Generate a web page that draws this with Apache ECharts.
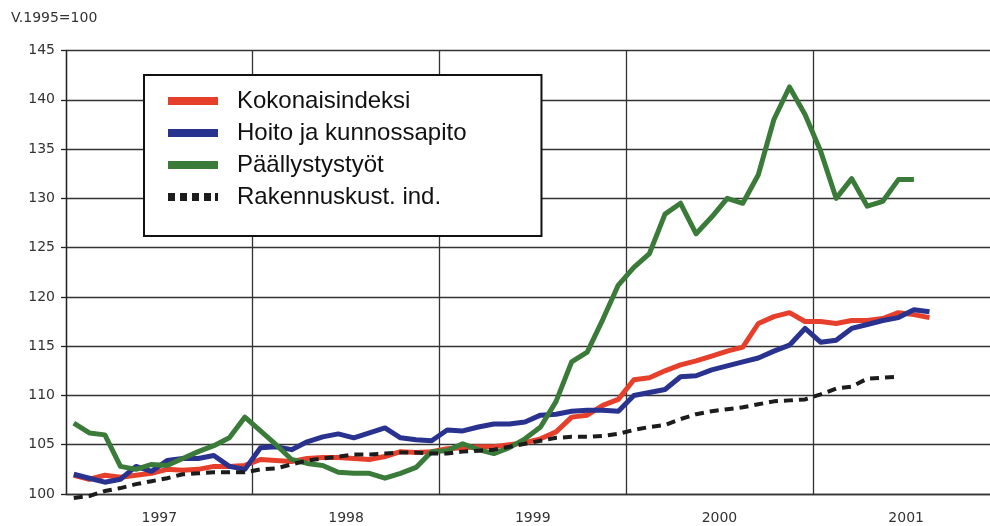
<!DOCTYPE html>
<html>
<head>
<meta charset="utf-8">
<script src="https://cdn.jsdelivr.net/npm/echarts@6/dist/echarts.min.js"></script>
<style>
  html, body { margin: 0; padding: 0; background: #fff; overflow: hidden; width: 990px; height: 526px; }
  /* the plot runs on a little past the right edge of the page */
  #chart { width: 1000px; height: 526px; }
</style>
</head>
<body>
<div id="chart"></div>
<script>
// Year bands along the x axis
const years = ['1997', '1998', '1999', '2000', '2001'];

// Monthly index values (1995 = 100), starting January 1997
const kokonaisindeksi = [
  101.9, 101.5, 101.9, 101.7, 101.9, 102.1, 102.5, 102.4, 102.5, 102.8, 102.8, 102.9,
  103.5, 103.4, 103.3, 103.6, 103.7, 103.7, 103.6, 103.5, 103.8, 104.3, 104.2, 104.3,
  104.6, 104.7, 104.8, 104.8, 105.0, 105.2, 105.6, 106.3, 107.8, 108.0, 109.0, 109.6,
  111.6, 111.8, 112.5, 113.1, 113.5, 114.0, 114.5, 114.9, 117.3, 118.0, 118.4, 117.5,
  117.5, 117.3, 117.6, 117.6, 117.8, 118.4, 118.2, 117.9
];
const hoitoJaKunnossapito = [
  102.0, 101.6, 101.2, 101.5, 102.8, 102.3, 103.4, 103.6, 103.6, 103.9, 102.8, 102.5,
  104.7, 104.8, 104.5, 105.3, 105.8, 106.1, 105.7, 106.2, 106.7, 105.7, 105.5, 105.4,
  106.5, 106.4, 106.8, 107.1, 107.1, 107.3, 108.0, 108.1, 108.4, 108.5, 108.5, 108.4,
  110.0, 110.3, 110.6, 111.9, 112.0, 112.6, 113.0, 113.4, 113.8, 114.5, 115.1, 116.8,
  115.4, 115.6, 116.8, 117.2, 117.6, 117.9, 118.7, 118.5
];
const paallystystyot = [
  107.2, 106.2, 106.0, 102.8, 102.5, 103.0, 102.9, 103.6, 104.3, 104.9, 105.7, 107.8,
  106.4, 105.0, 103.5, 103.1, 102.9, 102.2, 102.1, 102.1, 101.6, 102.1, 102.7, 104.3,
  104.4, 105.1, 104.5, 104.1, 104.7, 105.6, 106.8, 109.4, 113.4, 114.4, 117.7, 121.2,
  123.0, 124.4, 128.4, 129.5, 126.4, 128.1, 130.0, 129.5, 132.4, 138.0, 141.3, 138.5,
  134.8, 130.0, 132.0, 129.2, 129.7, 131.9, 131.9
];
const rakennuskustannus = [
  99.6, 99.8, 100.3, 100.6, 101.0, 101.3, 101.6, 102.0, 102.1, 102.2, 102.2, 102.2,
  102.5, 102.6, 103.0, 103.4, 103.6, 103.8, 104.0, 104.0, 104.1, 104.2, 104.2, 104.1,
  104.1, 104.3, 104.4, 104.5, 104.8, 105.1, 105.4, 105.7, 105.8, 105.8, 105.9, 106.1,
  106.5, 106.8, 107.0, 107.6, 108.1, 108.4, 108.6, 108.8, 109.1, 109.4, 109.5, 109.6,
  110.1, 110.7, 110.9, 111.7, 111.8, 111.9
];

const seriesNames = ['Kokonaisindeksi', 'Hoito ja kunnossapito', 'Päällystystyöt', 'Rakennuskust. ind.'];
const yTicks = { min: 100, max: 145, step: 5 };

// One hidden category per month so each value sits in the middle of its month
const months = [];
years.forEach(y => { for (let m = 1; m <= 12; m++) months.push(y + '-' + (m < 10 ? '0' : '') + m); });

const AXIS_FONT = 'DejaVu Sans';
const LEGEND_FONT = 'Liberation Sans';
const GRID_COLOR = '#333';

const chart = echarts.init(document.getElementById('chart'), null, { renderer: 'canvas' });

function lineSeries(name, values, color, extra) {
  return Object.assign({
    name: name,
    type: 'line',
    xAxisIndex: 1,
    data: values,
    symbol: 'none',
    showSymbol: false,
    clip: false,
    animation: false,
    lineStyle: { color: color, width: 5, join: 'round' },
    itemStyle: { color: color }
  }, extra || {});
}

chart.setOption({
  backgroundColor: '#fff',
  animation: false,
  title: {
    text: 'V.1995=100',
    left: 11, top: 11, padding: 0,
    textStyle: { fontFamily: AXIS_FONT, fontSize: 14, fontWeight: 'normal', color: '#333' }
  },
  grid: { left: 66, top: 50.5, right: 0.5, bottom: 32, containLabel: false },
  legend: {
    orient: 'vertical',
    left: 144, top: 75,
    padding: [10, 75, 23, 24],
    backgroundColor: '#fff',
    borderColor: '#111',
    borderWidth: 2,
    borderRadius: 0,
    itemWidth: 50, itemHeight: 8, itemGap: 0,
    itemStyle: { borderWidth: 0 },
    textStyle: {
      fontFamily: LEGEND_FONT, fontSize: 24, color: '#111',
      lineHeight: 26, padding: [6, 0, 0, 14]
    },
    data: [
      { name: seriesNames[0], icon: 'rect' },
      { name: seriesNames[1], icon: 'rect' },
      { name: seriesNames[2], icon: 'rect' },
      { name: seriesNames[3], icon: 'path://M0,0h7v8h-7z M12,0h7v8h-7z M24,0h7v8h-7z M36,0h7v8h-7z M47,0h3v8h-3z' }
    ]
  },
  xAxis: [
    {
      type: 'category',
      data: years,
      boundaryGap: true,
      axisLine: { show: true, lineStyle: { color: GRID_COLOR, width: 1.3 } },
      axisTick: { show: false },
      splitLine: { show: true, lineStyle: { color: GRID_COLOR, width: 1.3 } },
      axisLabel: { fontFamily: AXIS_FONT, fontSize: 14, color: '#333', margin: 17 }
    },
    {
      type: 'category',
      data: months,
      boundaryGap: true,
      show: false
    }
  ],
  yAxis: {
    type: 'value',
    min: yTicks.min, max: yTicks.max, interval: yTicks.step,
    axisLine: { show: true, lineStyle: { color: '#222', width: 1.3 } },
    axisTick: { show: true, length: 5, lineStyle: { color: '#222', width: 1.3 } },
    splitLine: { show: true, lineStyle: { color: GRID_COLOR, width: 1.3 } },
    axisLabel: { fontFamily: AXIS_FONT, fontSize: 14, color: '#333', margin: 11 }
  },
  series: [
    lineSeries(seriesNames[0], kokonaisindeksi, '#e6402d'),
    lineSeries(seriesNames[1], hoitoJaKunnossapito, '#29338f'),
    lineSeries(seriesNames[2], paallystystyot, '#3b7b3a'),
    lineSeries(seriesNames[3], rakennuskustannus, '#1c1c1c', {
      lineStyle: { color: '#1c1c1c', width: 4, type: [9, 6], cap: 'butt' }
    })
  ]
});
</script>
</body>
</html>
